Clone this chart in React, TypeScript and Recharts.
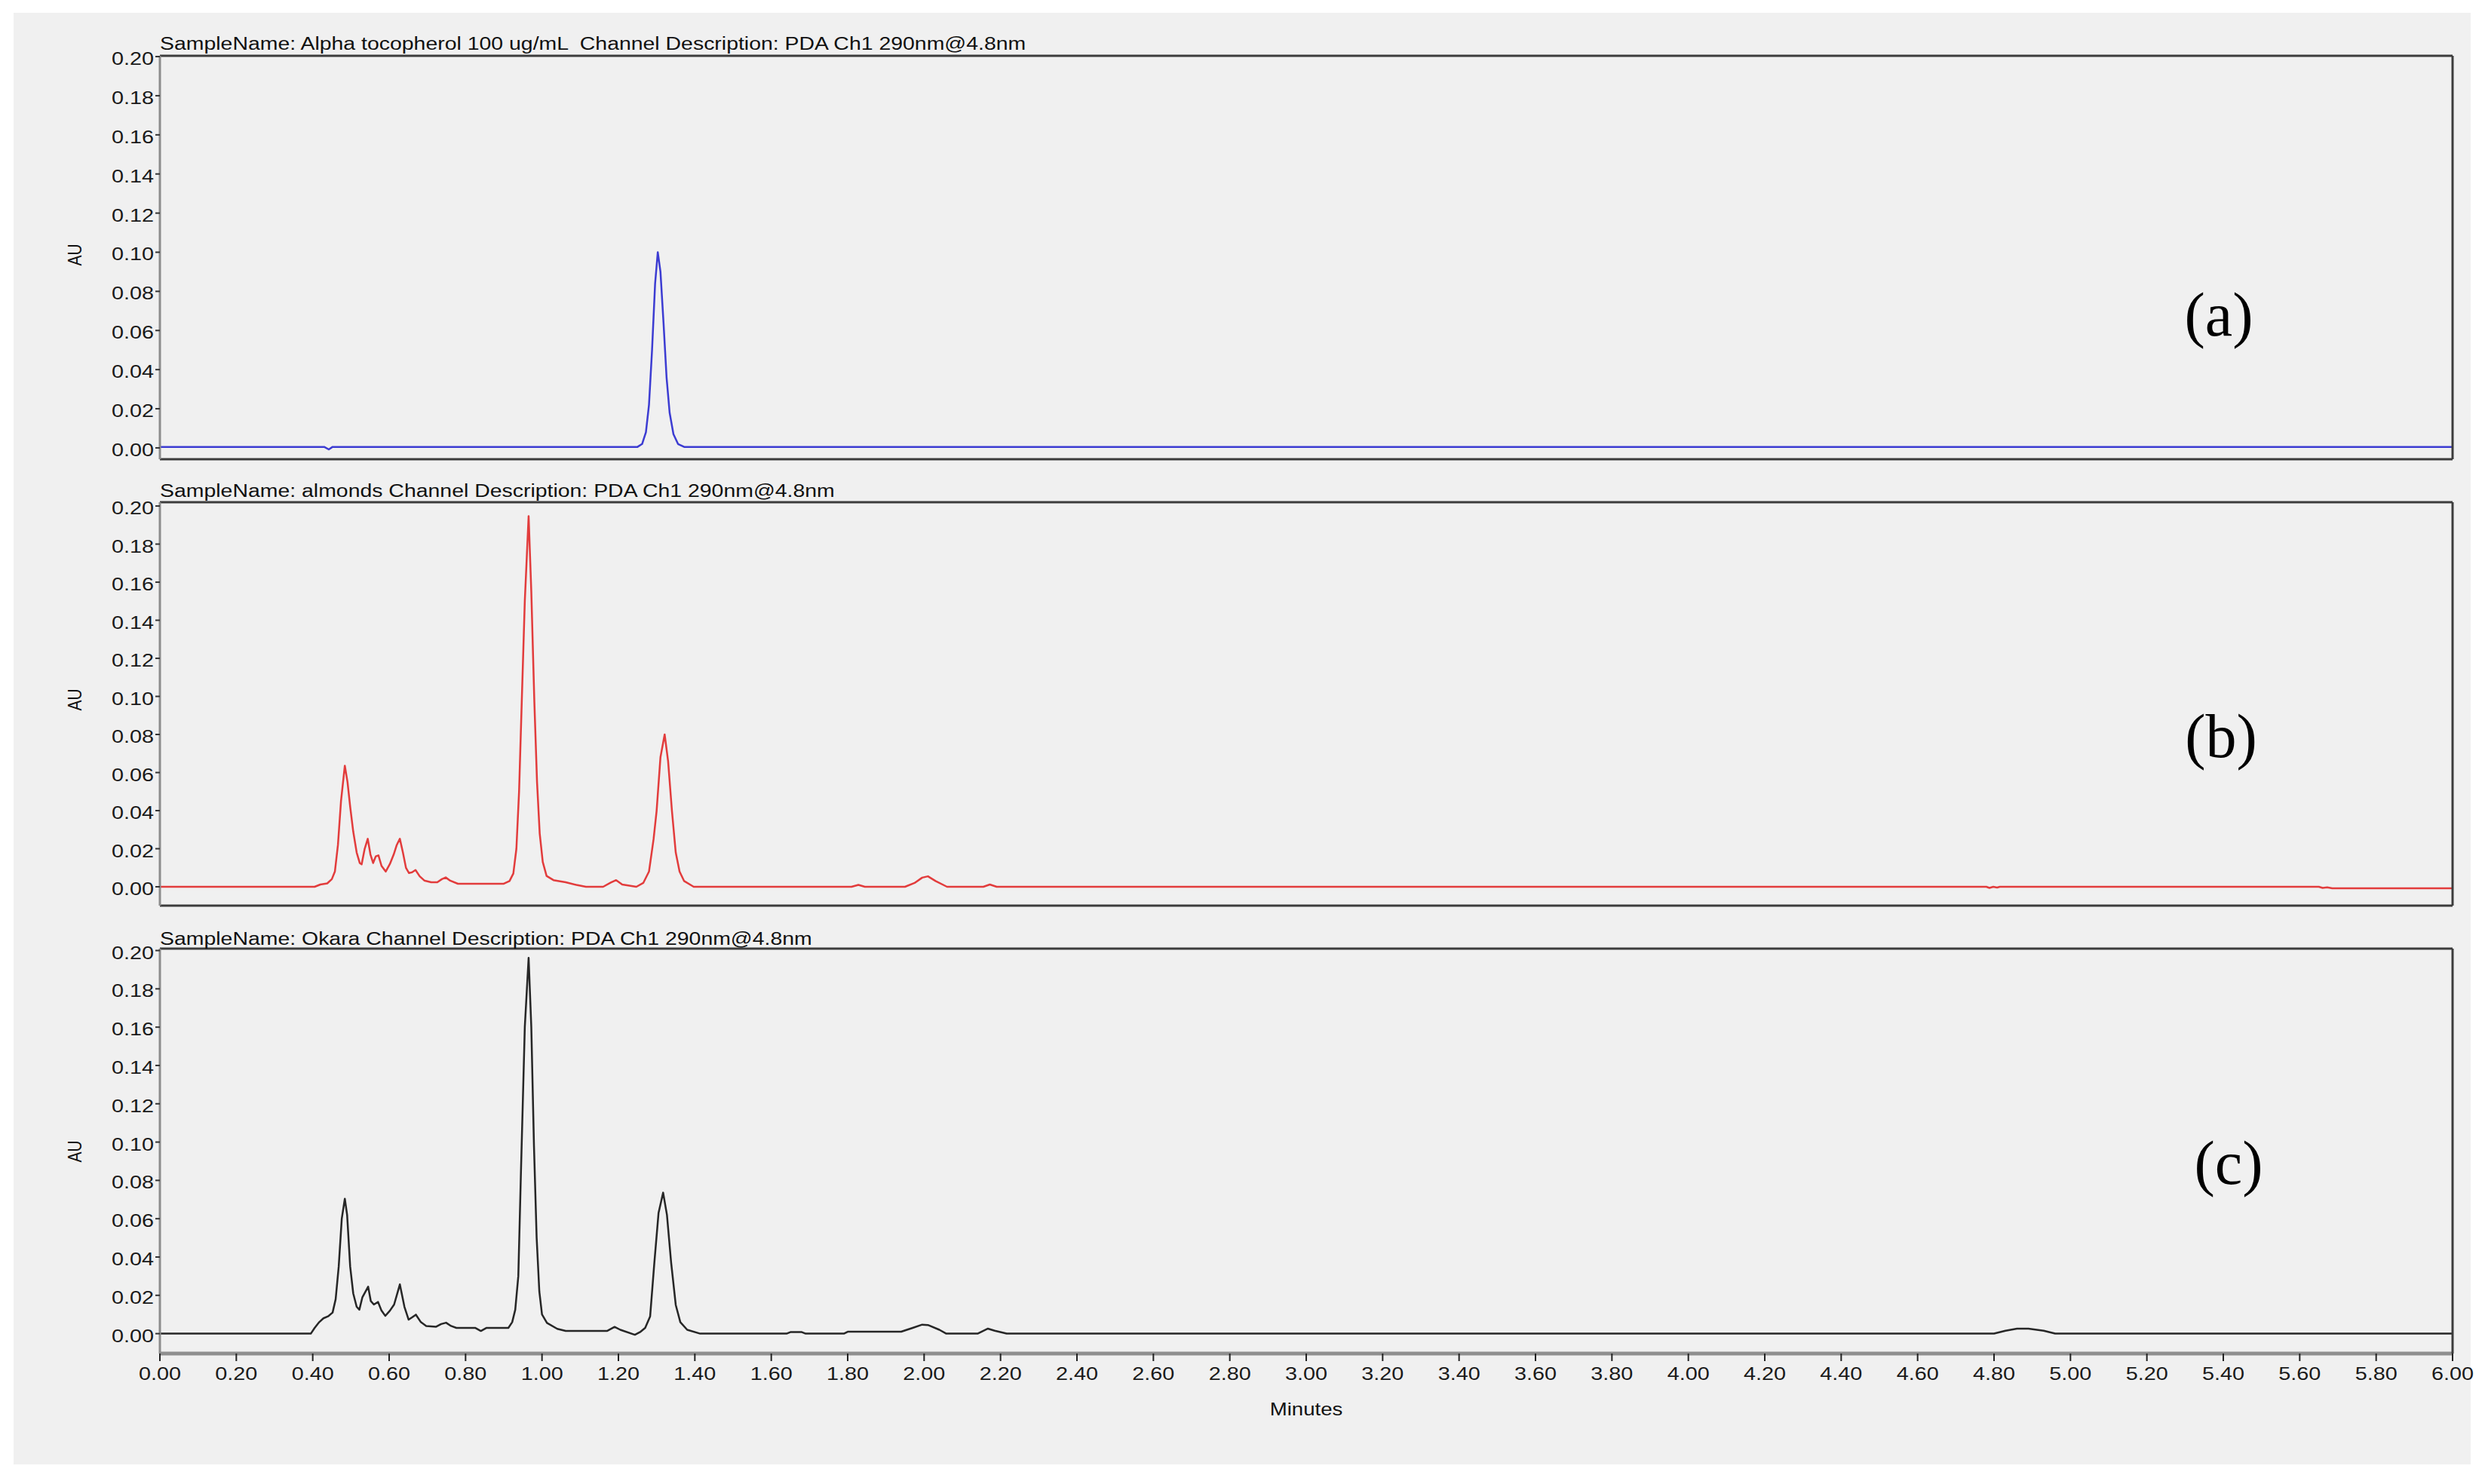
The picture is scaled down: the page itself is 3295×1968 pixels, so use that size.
import { LineChart, Line, XAxis, YAxis } from "recharts";

// retention time (min) / absorbance (AU)
const alphaTime = [0, 0.43, 0.442, 0.452, 1.25, 1.262, 1.272, 1.28, 1.288, 1.296, 1.303, 1.31, 1.318, 1.326, 1.334, 1.344, 1.356, 1.372, 6];
const alphaAU = [0.0005, 0.0005, -0.0008, 0.0005, 0.0005, 0.002, 0.008, 0.022, 0.05, 0.084, 0.1, 0.09, 0.064, 0.036, 0.018, 0.007, 0.002, 0.0005, 0.0005];

const almondTime = [
  0, 0.405, 0.42, 0.438, 0.45, 0.458, 0.466, 0.474, 0.484, 0.491, 0.498, 0.506, 0.515, 0.523, 0.528, 0.536, 0.544, 0.551,
  0.558, 0.565, 0.572, 0.58, 0.591, 0.602, 0.612, 0.62, 0.628, 0.636, 0.644, 0.652, 0.66, 0.669, 0.68, 0.692, 0.71, 0.726,
  0.738, 0.748, 0.76, 0.78, 0.9, 0.915, 0.925, 0.933, 0.94, 0.947, 0.955, 0.965, 0.972, 0.98, 0.987, 0.994, 1.002, 1.012,
  1.03, 1.062, 1.09, 1.115, 1.16, 1.18, 1.194, 1.21, 1.247, 1.265, 1.28, 1.292, 1.3, 1.31, 1.321, 1.33, 1.34, 1.35, 1.36,
  1.372, 1.397, 1.81, 1.828, 1.845, 1.95, 1.975, 1.995, 2.01, 2.03, 2.06, 2.155, 2.172, 2.19, 4.78, 4.788, 4.798, 4.808,
  4.815, 5.65, 5.66, 5.672, 5.685, 5.7, 6,
];
const almondAU = [
  0, 0, 0.0012, 0.0018, 0.004, 0.008, 0.022, 0.045, 0.0636, 0.055, 0.042, 0.029, 0.018, 0.0125, 0.0118, 0.02, 0.0252, 0.017,
  0.0125, 0.016, 0.0165, 0.011, 0.008, 0.012, 0.017, 0.022, 0.0252, 0.018, 0.01, 0.0072, 0.0076, 0.0088, 0.0055, 0.0033, 0.0024, 0.0024,
  0.004, 0.0049, 0.0032, 0.0016, 0.0016, 0.003, 0.007, 0.02, 0.05, 0.097, 0.15, 0.1947, 0.155, 0.097, 0.055, 0.028, 0.013, 0.0057,
  0.0035, 0.0024, 0.001, 0, 0, 0.0022, 0.0035, 0.0012, 0, 0.002, 0.008, 0.025, 0.04, 0.068, 0.08, 0.066, 0.04, 0.018, 0.008,
  0.003, 0, 0, 0.001, 0, 0, 0.002, 0.0048, 0.0055, 0.003, 0, 0, 0.0012, 0, 0, -0.0006, 0, -0.0004,
  0, 0, -0.0006, -0.0003, -0.0008, -0.0008, -0.0008,
];

const okaraTime = [
  0, 0.395, 0.405, 0.417, 0.428, 0.44, 0.452, 0.46, 0.468, 0.476, 0.484, 0.49, 0.498, 0.506, 0.515, 0.522, 0.53, 0.545,
  0.552, 0.56, 0.571, 0.58, 0.59, 0.602, 0.613, 0.628, 0.64, 0.651, 0.66, 0.67, 0.683, 0.697, 0.723, 0.736, 0.749, 0.762,
  0.776, 0.825, 0.84, 0.855, 0.912, 0.922, 0.93, 0.938, 0.945, 0.955, 0.965, 0.972, 0.979, 0.986, 0.993, 1.0, 1.013, 1.04,
  1.062, 1.1, 1.17, 1.19, 1.205, 1.243, 1.258, 1.27, 1.283, 1.294, 1.305, 1.317, 1.327, 1.338, 1.35, 1.362, 1.38, 1.414,
  1.64, 1.65, 1.68, 1.69, 1.79, 1.8, 1.94, 1.97, 1.995, 2.01, 2.04, 2.058, 2.14, 2.155, 2.167, 2.185, 2.216, 4.8, 4.83,
  4.86, 4.89, 4.93, 4.96, 6,
];
const okaraAU = [
  0, 0, 0.003, 0.006, 0.008, 0.009, 0.011, 0.018, 0.035, 0.06, 0.0704, 0.062, 0.035, 0.021, 0.014, 0.0125, 0.019, 0.0245,
  0.017, 0.0152, 0.0165, 0.012, 0.0093, 0.012, 0.0152, 0.0257, 0.014, 0.0073, 0.0085, 0.0099, 0.006, 0.004, 0.0036, 0.005, 0.0057, 0.004,
  0.003, 0.003, 0.0014, 0.003, 0.003, 0.006, 0.0125, 0.03, 0.085, 0.16, 0.1962, 0.16, 0.098, 0.05, 0.022, 0.01, 0.0056, 0.0025,
  0.0014, 0.0014, 0.0014, 0.0035, 0.002, -0.0006, 0.001, 0.003, 0.009, 0.037, 0.063, 0.0736, 0.062, 0.037, 0.015, 0.006, 0.002, 0,
  0, 0.0008, 0.0008, 0, 0, 0.001, 0.001, 0.003, 0.0047, 0.0045, 0.002, 0, 0, 0.0015, 0.0026, 0.0015, 0, 0, 0.0015,
  0.0026, 0.0026, 0.0015, 0, 0,
];

const xTicks = [0, 0.2, 0.4, 0.6, 0.8, 1, 1.2, 1.4, 1.6, 1.8, 2, 2.2, 2.4, 2.6, 2.8, 3, 3.2, 3.4, 3.6, 3.8, 4, 4.2, 4.4, 4.6, 4.8, 5, 5.2, 5.4, 5.6, 5.8, 6];
const yTicks = [0, 0.02, 0.04, 0.06, 0.08, 0.1, 0.12, 0.14, 0.16, 0.18, 0.2];
const xMinor = Array.from({ length: 121 }, (_, i) => Math.round(i * 50) / 1000);
const yMinor = Array.from({ length: 43 }, (_, i) => Math.round(-10 + i * 5) / 1000);

const titles = [
  "SampleName: Alpha tocopherol 100 ug/mL  Channel Description: PDA Ch1 290nm@4.8nm",
  "SampleName: almonds Channel Description: PDA Ch1 290nm@4.8nm",
  "SampleName: Okara Channel Description: PDA Ch1 290nm@4.8nm",
];
const panelTags = ["(a)", "(b)", "(c)"];

const W = 3279;
const H = 1952;
const SANS = '"Liberation Sans", Arial, sans-serif';
const SERIF = '"Liberation Serif", "Times New Roman", serif';
const FRAME = "#3c3c3c";

const toRows = (t: number[], v: number[]) => t.map((x, i) => ({ t: x, v: v[i] }));

const YTick = (props: any) => {
  const { x, y, payload } = props;
  return (
    <text transform={`translate(${x},${y + 11}) scale(1.2,1)`} textAnchor="end" fontSize={24} fontFamily={SANS} fill="#1a1a1a">
      {Number(payload.value).toFixed(2)}
    </text>
  );
};

const XTick = (props: any) => {
  const { x, y, payload } = props;
  return (
    <text transform={`translate(${x},${y + 23}) scale(1.2,1)`} textAnchor="middle" fontSize={24} fontFamily={SANS} fill="#1a1a1a">
      {Number(payload.value).toFixed(2)}
    </text>
  );
};

// axes of size 0 are skipped by recharts, so the frame / minor-tick axes get 1px
function Panel({ rows, color, domain, top, showX }: { rows: { t: number; v: number }[]; color: string; domain: [number, number]; top: number; showX: boolean }) {
  const height = showX ? 627 : 575;
  const minorY = yMinor.filter((v) => v >= domain[0] && v <= domain[1]);
  return (
    <div style={{ position: "absolute", left: 0, top }}>
      <LineChart width={W} height={height} data={rows} margin={{ top: 19, right: 34, bottom: showX ? 9 : 18, left: 123 }}>
        <XAxis
          xAxisId="minor"
          type="number"
          dataKey="t"
          domain={[0, 6]}
          allowDataOverflow
          ticks={xMinor}
          interval={0}
          height={1}
          tick={false}
          tickSize={4}
          tickLine={showX ? { stroke: "#222", strokeWidth: 2 } : false}
          axisLine={false}
        />
        <XAxis
          xAxisId="main"
          type="number"
          dataKey="t"
          domain={[0, 6]}
          allowDataOverflow
          ticks={xTicks}
          interval={0}
          height={showX ? 60 : 1}
          tick={showX ? XTick : false}
          tickSize={10}
          tickLine={showX ? { stroke: "#222", strokeWidth: 2 } : false}
          axisLine={{ stroke: showX ? "#8f8f8f" : FRAME, strokeWidth: showX ? 5 : 3 }}
        />
        <XAxis xAxisId="top" orientation="top" type="number" domain={[0, 6]} ticks={xTicks} height={1} tick={false} tickLine={false} axisLine={{ stroke: FRAME, strokeWidth: 3 }} />
        <YAxis
          yAxisId="minor"
          type="number"
          domain={domain}
          allowDataOverflow
          ticks={minorY}
          interval={0}
          width={1}
          tick={false}
          tickSize={4}
          tickLine={{ stroke: "#222", strokeWidth: 2 }}
          axisLine={false}
        />
        <YAxis
          yAxisId="main"
          type="number"
          domain={domain}
          allowDataOverflow
          ticks={yTicks}
          interval={0}
          width={80}
          tick={YTick}
          tickSize={6}
          tickLine={{ stroke: "#333", strokeWidth: 2 }}
          axisLine={{ stroke: "#8c8c8c", strokeWidth: 3 }}
        />
        <YAxis yAxisId="right" orientation="right" type="number" domain={domain} ticks={yTicks} width={1} tick={false} tickLine={false} axisLine={{ stroke: FRAME, strokeWidth: 3 }} />
        <Line
          xAxisId="main"
          yAxisId="main"
          type="linear"
          dataKey="v"
          stroke={color}
          strokeWidth={2.5}
          strokeLinejoin="round"
          dot={false}
          activeDot={false}
          isAnimationActive={false}
        />
      </LineChart>
    </div>
  );
}

export default function App() {
  return (
    <div style={{ position: "relative", width: W, height: H, background: "#ffffff" }}>
      <div style={{ position: "absolute", left: 10, top: 9, width: 3258, height: 1925, background: "#f0f0f0" }} />
      <Panel rows={toRows(alphaTime, alphaAU)} color="#3c3cd2" domain={[-0.0058, 0.2004]} top={46} showX={false} />
      <Panel rows={toRows(almondTime, almondAU)} color="#e23c3c" domain={[-0.0099, 0.202]} top={638} showX={false} />
      <Panel rows={toRows(okaraTime, okaraAU)} color="#262626" domain={[-0.0104, 0.201]} top={1230} showX={true} />
      <svg width={W} height={H} style={{ position: "absolute", left: 0, top: 0, pointerEvents: "none" }}>
        {[58, 651, 1245].map((y, i) => (
          <text key={titles[i]} transform={`translate(204,${y}) scale(1.21,1)`} fontSize={23.5} fontFamily={SANS} fill="#111" style={{ whiteSpace: "pre" }}>
            {titles[i]}
          </text>
        ))}
        {[330, 920, 1519].map((y) => (
          <text key={y} transform={`translate(91,${y}) rotate(-90) scale(1,1.2)`} textAnchor="middle" dy="0.36em" fontSize={21} fontFamily={SANS} fill="#111">
            AU
          </text>
        ))}
        <text transform="translate(1724,1869) scale(1.2,1)" textAnchor="middle" fontSize={23} fontFamily={SANS} fill="#111">
          Minutes
        </text>
        {[
          [2934, 437],
          [2937, 996],
          [2947, 1562],
        ].map(([x, y], i) => (
          <text key={panelTags[i]} x={x} y={y} textAnchor="middle" fontSize={82} fontFamily={SERIF} fill="#000">
            {panelTags[i]}
          </text>
        ))}
      </svg>
    </div>
  );
}
